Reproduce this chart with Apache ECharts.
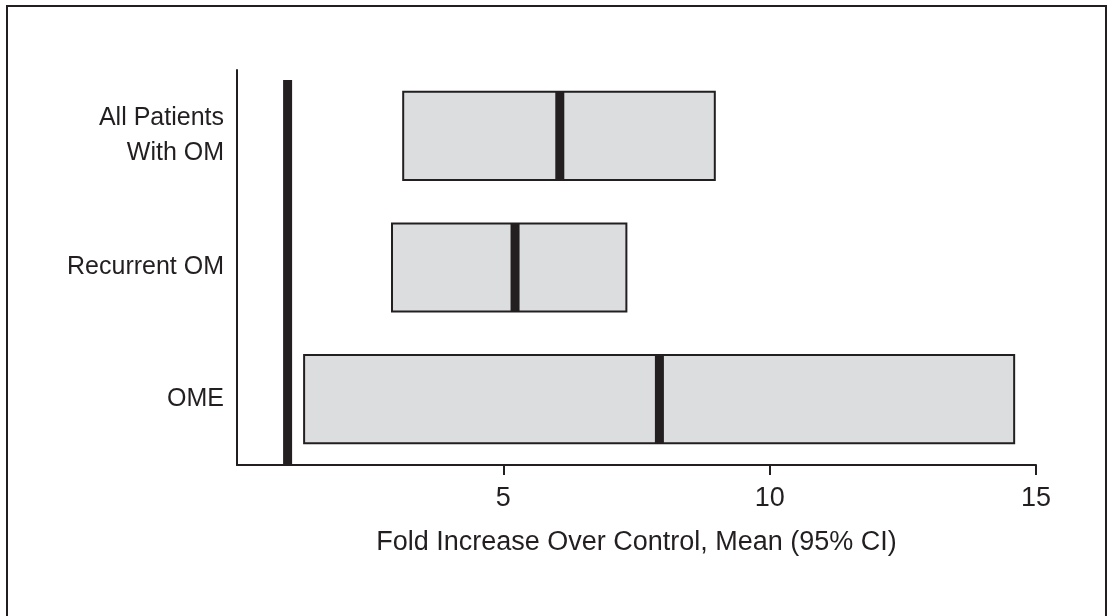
<!DOCTYPE html>
<html>
<head>
<meta charset="utf-8">
<script src="https://cdn.jsdelivr.net/npm/echarts@6/dist/echarts.min.js"></script>
<style>
  html, body { margin: 0; padding: 0; background: #ffffff; }
  #chart { width: 1107px; height: 616px; }
</style>
</head>
<body>
<div id="chart"></div>
<script>
// ---- data ----
const categories = ['All Patients\nWith OM', 'Recurrent OM', 'OME'];
const ciLow  = [3.12, 2.91, 1.26];
const ciHigh = [8.97, 7.31, 14.59];
const means  = [6.06, 5.22, 7.93];
const referenceValue = 0.95;
const xTicks = [5, 10, 15];
const xAxisTitle = 'Fold Increase Over Control, Mean (95% CI)';

const INK = '#231f20';
const FILL = '#dcdddf';
const FONT = '"Liberation Sans", Arial, sans-serif';

const boxData = categories.map((c, i) => [ciLow[i], ciHigh[i], means[i], i]);

const chart = echarts.init(document.getElementById('chart'), null, { renderer: 'canvas' });

chart.setOption({
  animation: false,
  backgroundColor: '#ffffff',
  graphic: [{
    type: 'rect',
    shape: { x: 7, y: 6, width: 1099, height: 611 },
    style: { fill: 'none', stroke: INK, lineWidth: 2 },
    silent: true
  }],
  grid: { left: 237, right: 71, top: 70, bottom: 151 },
  xAxis: {
    type: 'value',
    min: 0,
    max: 15,
    interval: 5,
    splitLine: { show: false },
    axisLine: { show: true, onZero: false, lineStyle: { color: INK, width: 2 } },
    axisTick: { show: true, length: 10, customValues: xTicks, lineStyle: { color: INK, width: 2 } },
    axisLabel: {
      customValues: xTicks,
      margin: 20,
      fontFamily: FONT,
      fontSize: 27,
      color: INK
    },
    name: xAxisTitle,
    nameLocation: 'middle',
    nameGap: 64,
    nameTextStyle: { fontFamily: FONT, fontSize: 27, color: INK }
  },
  yAxis: {
    type: 'category',
    data: categories,
    inverse: true,
    axisLine: { show: true, lineStyle: { color: INK, width: 2 } },
    axisTick: { show: false },
    splitLine: { show: false },
    axisLabel: {
      margin: 13,
      fontFamily: FONT,
      fontSize: 25,
      lineHeight: 35,
      color: INK,
      align: 'right'
    }
  },
  series: [
    {
      type: 'custom',
      name: 'CI',
      data: boxData,
      encode: { x: [0, 1, 2], y: 3 },
      renderItem: function (params, api) {
        const y = api.value(3);
        const pLow = api.coord([api.value(0), y]);
        const pHigh = api.coord([api.value(1), y]);
        const pMean = api.coord([api.value(2), y]);
        const band = api.size([0, 1])[1];
        const h = band * 0.67;
        return {
          type: 'group',
          children: [
            {
              type: 'rect',
              shape: { x: pLow[0], y: pLow[1] - h / 2, width: pHigh[0] - pLow[0], height: h },
              style: { fill: FILL, stroke: INK, lineWidth: 2 }
            },
            {
              type: 'rect',
              shape: { x: pMean[0] - 4.5, y: pLow[1] - h / 2, width: 9, height: h },
              style: { fill: INK }
            }
          ]
        };
      }
    },
    {
      type: 'custom',
      name: 'Reference',
      data: [[referenceValue]],
      encode: { x: 0 },
      renderItem: function (params, api) {
        const cs = params.coordSys;
        const p = api.coord([api.value(0), 0]);
        const top = cs.y + 10;
        const bottom = cs.y + cs.height;
        return {
          type: 'rect',
          shape: { x: p[0] - 4.5, y: top, width: 9, height: bottom - top },
          style: { fill: INK }
        };
      }
    }
  ]
});
</script>
</body>
</html>
